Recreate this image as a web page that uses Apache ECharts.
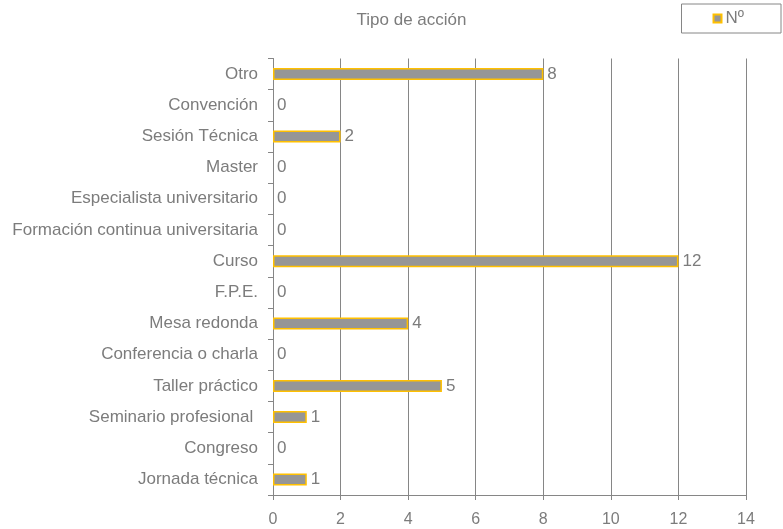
<!DOCTYPE html>
<html><head><meta charset="utf-8">
<script src="https://cdn.jsdelivr.net/npm/echarts@6/dist/echarts.min.js"></script>
<style>html,body{margin:0;padding:0;background:#fff}#c{width:783px;height:529px}</style>
</head><body><div id="c"></div>
<script>
const categories = ["Otro","Convención","Sesión Técnica","Master","Especialista universitario","Formación continua universitaria","Curso","F.P.E.","Mesa redonda","Conferencia o charla","Taller práctico","Seminario profesional ","Congreso","Jornada técnica"];
const values = [8,0,2,0,0,0,12,0,4,0,5,1,0,1];
const xTicks = {min:0,max:14,interval:2};
const seriesName = "Nº";
const titleText = "Tipo de acción";

const chart = echarts.init(document.getElementById('c'));
const font = 'Liberation Sans, Arial, sans-serif';
const txt = '#7c7c7c';
chart.setOption({
  animation:false,
  textStyle:{fontFamily:font},
  title:{text:titleText,left:406.5,top:7,textAlign:'center',textStyle:{fontSize:17,fontWeight:'normal',color:txt,fontFamily:font}},
  legend:{right:2,top:4,data:[seriesName],icon:'rect',itemWidth:8,itemHeight:8,itemGap:6,
    borderColor:'#868686',borderWidth:1,padding:[6,37,6,31],
    textStyle:{fontSize:17,color:txt,fontFamily:font,padding:[3,0,0,-1]}},
  grid:{left:273,right:37,top:58.5,bottom:34,containLabel:false},
  xAxis:{type:'value',min:xTicks.min,max:xTicks.max,interval:xTicks.interval,
    axisLine:{show:true,lineStyle:{color:'#868686',width:1}},
    axisTick:{show:true,length:5,lineStyle:{color:'#868686'}},
    axisLabel:{color:txt,fontSize:16,margin:17,fontFamily:font},
    splitLine:{show:true,lineStyle:{color:'#868686',width:1}}},
  yAxis:{type:'category',data:categories,inverse:true,
    axisLine:{show:true,lineStyle:{color:'#868686',width:1}},
    axisTick:{show:true,length:5,alignWithLabel:false,lineStyle:{color:'#868686'}},
    axisLabel:{color:txt,fontSize:17,margin:15,fontFamily:font}},
  series:[{name:seriesName,type:'bar',barWidth:12,
    data:values.map(v => v === 0 ? {value:v,itemStyle:{borderWidth:0}} : v),
    itemStyle:{color:'#969696',borderColor:'#FFC000',borderWidth:1.5},
    label:{show:true,position:'right',distance:4,color:txt,fontSize:17,fontFamily:font}}]
});
</script></body></html>
